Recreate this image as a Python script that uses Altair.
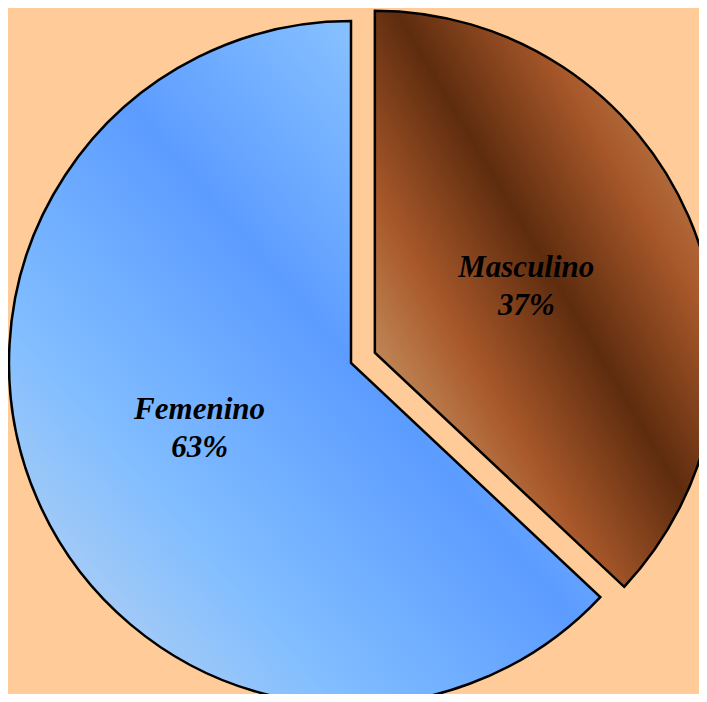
import math
import altair as alt
import pandas as pd

# ---- data ----
categories = ["Masculino", "Femenino"]
values = [37, 63]
order = [0, 1]

df = pd.DataFrame({"cat": categories, "value": values, "order": order})
total = sum(values)

# ---- layout / style ----
W, H = 691, 686
R = 342
CX, CY = 343, 355          # centre of the un-exploded pie (chart coords)
EXPLODE = 26               # offset of the exploded slice
LABEL_R = 165

mid_m = (values[0] / 2) / total * 2 * math.pi
MX = CX + EXPLODE * math.sin(mid_m)
MY = CY - EXPLODE * math.cos(mid_m)

blue = alt.LinearGradient(
    gradient="linear", x1=0, y1=1, x2=1, y2=0,
    stops=[
        alt.GradientStop(offset=0.0, color="#C8D8EC"),
        alt.GradientStop(offset=0.28, color="#82BEFF"),
        alt.GradientStop(offset=0.54, color="#5C9CFF"),
        alt.GradientStop(offset=0.78, color="#86C0FF"),
        alt.GradientStop(offset=1.0, color="#A6CCF4"),
    ],
)
brown = alt.LinearGradient(
    gradient="linear", x1=0, y1=1, x2=1, y2=0,
    stops=[
        alt.GradientStop(offset=0.0, color="#CC9866"),
        alt.GradientStop(offset=0.20, color="#C08656"),
        alt.GradientStop(offset=0.34, color="#A8582A"),
        alt.GradientStop(offset=0.53, color="#5E2C0E"),
        alt.GradientStop(offset=0.72, color="#A8582A"),
        alt.GradientStop(offset=0.87, color="#BC7E4E"),
        alt.GradientStop(offset=1.0, color="#C48A5A"),
    ],
)

theta_scale = alt.Scale(domain=[0, total], range=[0, 2 * math.pi])

base = alt.Chart(df).transform_stack(
    stack="value", groupby=[], as_=["start", "end"],
    sort=[alt.SortField("order", order="ascending")],
).transform_calculate(
    mid="(datum.start + datum.end) / 2",
    label="datum.cat + '\\n' + format(datum.value / %d, '.0%%')" % total,
)

def slice_layer(name, fill, cx, cy):
    return base.transform_filter(alt.datum.cat == name).mark_arc(
        outerRadius=R, fill=fill, stroke="black", strokeWidth=2.5,
        strokeJoin="miter",
    ).encode(
        theta=alt.Theta("start:Q", scale=theta_scale, stack=False),
        theta2="end:Q",
        x=alt.value(cx),
        y=alt.value(cy),
    )

def label_layer(name, cx, cy):
    return base.transform_filter(alt.datum.cat == name).mark_text(
        radius=LABEL_R, font="Liberation Serif", fontSize=31,
        fontStyle="italic", fontWeight="bold", color="black",
        align="center", baseline="middle", lineBreak="\n", lineHeight=38,
        dy=-19,
    ).encode(
        theta=alt.Theta("mid:Q", scale=theta_scale, stack=False),
        text="label:N",
        x=alt.value(cx),
        y=alt.value(cy),
    )

chart = alt.layer(
    slice_layer("Femenino", blue, CX, CY),
    slice_layer("Masculino", brown, MX, MY),
    label_layer("Femenino", CX, CY),
    label_layer("Masculino", MX, MY),
).properties(
    width=W, height=H, autosize=alt.AutoSizeParams(type="none"), padding=0,
    background="#FFCB98",
).configure_view(stroke=None)

chart.save("out.html", embed_options={"renderer": "svg", "actions": False})
